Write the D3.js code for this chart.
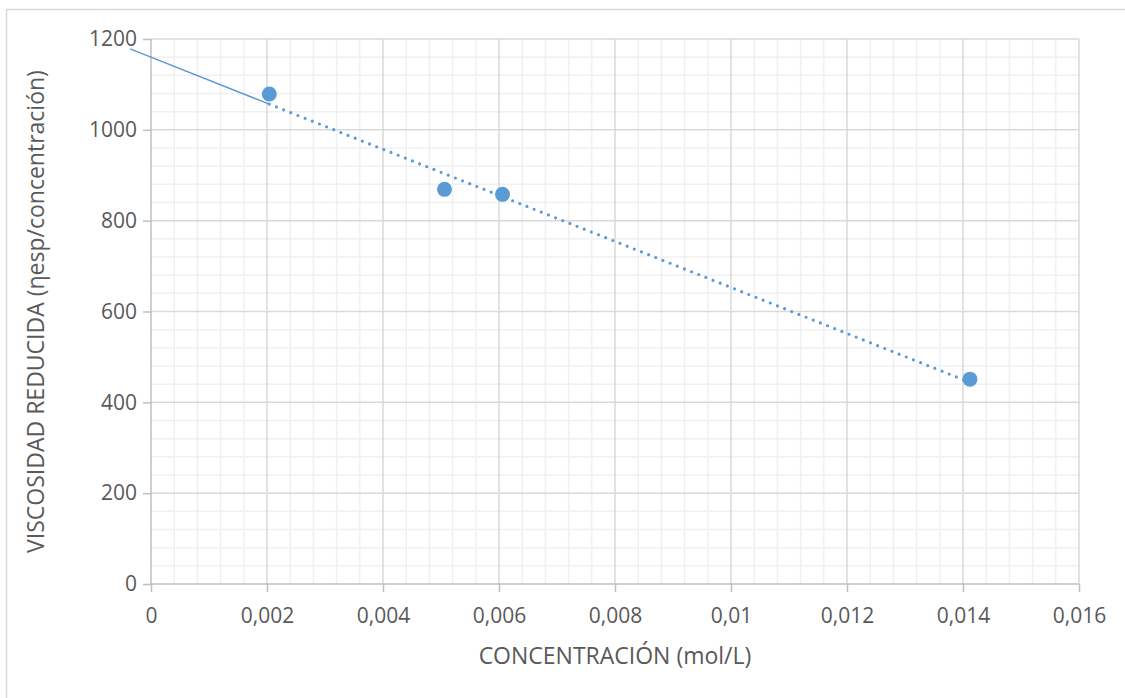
<!DOCTYPE html>
<html>
<head>
<meta charset="utf-8">
<script src="https://cdn.jsdelivr.net/npm/d3@7"></script>
<style>
  body { margin: 0; background: #fff; }
  svg { display: block; font-family: "Open Sans", sans-serif; }
</style>
</head>
<body>
<svg id="chart" width="1125" height="698"></svg>
<script>
// values
const concentracion = [0.00204, 0.00506, 0.00606, 0.01412];
const viscosidadReducida = [1079, 869, 858, 451];

const xTicks = [0, 0.002, 0.004, 0.006, 0.008, 0.01, 0.012, 0.014, 0.016];
const yTicks = [0, 200, 400, 600, 800, 1000, 1200];
const xTitle = 'CONCENTRACIÓN (mol/L)';
const yTitle = 'VISCOSIDAD REDUCIDA (ηesp/concentración)';
const forecastBackward = 0.0024;

const svg = d3.select('#chart');
const blue = '#5b9bd5';
const textColor = '#595959';

const plot = { left: 151, right: 1079, top: 39, bottom: 584 };

const x = d3.scaleLinear().domain([0, 0.016]).range([plot.left, plot.right]);
const y = d3.scaleLinear().domain([0, 1200]).range([plot.bottom, plot.top]);

svg.append('rect')
  .attr('x', 6.5).attr('y', 9.5)
  .attr('width', 1130).attr('height', 700)
  .attr('fill', '#fff')
  .attr('stroke', '#d9d9d9')
  .attr('stroke-width', 1.5);

// minor grid
const xMinor = d3.range(0, 81).map((i) => i * 0.0002).filter((v, i) => i % 2 === 0 && i % 10 !== 0);
const yMinor = d3.range(0, 31).map((i) => i * 40).filter((v, i) => i % 5 !== 0);

const grid = svg.append('g');
grid.selectAll('.xminor')
  .data(xMinor)
  .enter()
  .append('line')
  .attr('x1', (d) => x(d)).attr('x2', (d) => x(d))
  .attr('y1', plot.top).attr('y2', plot.bottom)
  .attr('stroke', '#f0f0f0').attr('stroke-width', 1.5);
grid.selectAll('.yminor')
  .data(yMinor)
  .enter()
  .append('line')
  .attr('x1', plot.left).attr('x2', plot.right)
  .attr('y1', (d) => y(d)).attr('y2', (d) => y(d))
  .attr('stroke', '#f0f0f0').attr('stroke-width', 1.5);

// major grid
grid.selectAll('.xmajor')
  .data(xTicks.slice(1))
  .enter()
  .append('line')
  .attr('x1', (d) => x(d)).attr('x2', (d) => x(d))
  .attr('y1', plot.top).attr('y2', plot.bottom)
  .attr('stroke', '#d9d9d9').attr('stroke-width', 1.5);
grid.selectAll('.ymajor')
  .data(yTicks.slice(1))
  .enter()
  .append('line')
  .attr('x1', plot.left).attr('x2', plot.right)
  .attr('y1', (d) => y(d)).attr('y2', (d) => y(d))
  .attr('stroke', '#d9d9d9').attr('stroke-width', 1.5);

const fmt = (d) => String(d).replace('.', ',');

// axes
const xAxis = svg.append('g')
  .attr('transform', `translate(0,${plot.bottom})`)
  .call(d3.axisBottom(x).tickValues(xTicks).tickFormat(fmt).tickSize(8).tickPadding(16));
const yAxis = svg.append('g')
  .attr('transform', `translate(${plot.left},0)`)
  .call(d3.axisLeft(y).tickValues(yTicks).tickFormat(fmt).tickSize(8).tickPadding(6));

[xAxis, yAxis].forEach((a) => {
  a.select('.domain').attr('stroke', '#bfbfbf').attr('stroke-width', 1.5);
  a.selectAll('.tick line').attr('stroke', '#bfbfbf').attr('stroke-width', 1.5);
  a.selectAll('.tick text')
    .attr('fill', textColor)
    .style('font-size', '21px')
    .style('font-family', '"Open Sans", sans-serif');
});
xAxis.select('.domain').attr('d', `M${plot.left},0H${plot.right}`);
yAxis.select('.domain').attr('d', `M0,${plot.bottom}V${plot.top}`);

// linear trendline (least squares), forecast backward
const mx = d3.mean(concentracion);
const my = d3.mean(viscosidadReducida);
const sxy = d3.sum(concentracion, (c, i) => (c - mx) * (viscosidadReducida[i] - my));
const sxx = d3.sum(concentracion, (c) => (c - mx) * (c - mx));
const slope = sxy / sxx;
const intercept = my - slope * mx;
const fit = (c) => intercept + slope * c;

const xMin = d3.min(concentracion);
const xMax = d3.max(concentracion);

svg.append('line')
  .attr('x1', x(xMin - forecastBackward)).attr('y1', y(fit(xMin - forecastBackward)))
  .attr('x2', x(xMin)).attr('y2', y(fit(xMin)))
  .attr('stroke', blue).attr('stroke-width', 1.5);

svg.append('line')
  .attr('x1', x(xMin)).attr('y1', y(fit(xMin)))
  .attr('x2', x(xMax)).attr('y2', y(fit(xMax)))
  .attr('stroke', blue).attr('stroke-width', 3.2)
  .attr('stroke-linecap', 'round')
  .attr('stroke-dasharray', '0 7.7');

// points
svg.selectAll('.pt')
  .data(concentracion.map((c, i) => [c, viscosidadReducida[i]]))
  .enter()
  .append('circle')
  .attr('class', 'pt')
  .attr('cx', (d) => x(d[0]))
  .attr('cy', (d) => y(d[1]))
  .attr('r', 7.5)
  .attr('fill', blue);

// titles
svg.append('text')
  .attr('x', (plot.left + plot.right) / 2)
  .attr('y', 664)
  .attr('text-anchor', 'middle')
  .attr('fill', textColor)
  .style('font-size', '23px')
  .text(xTitle);

svg.append('text')
  .attr('transform', `translate(44,${(plot.top + plot.bottom) / 2}) rotate(-90)`)
  .attr('text-anchor', 'middle')
  .attr('fill', textColor)
  .style('font-size', '23px')
  .text(yTitle);
</script>
</body>
</html>
